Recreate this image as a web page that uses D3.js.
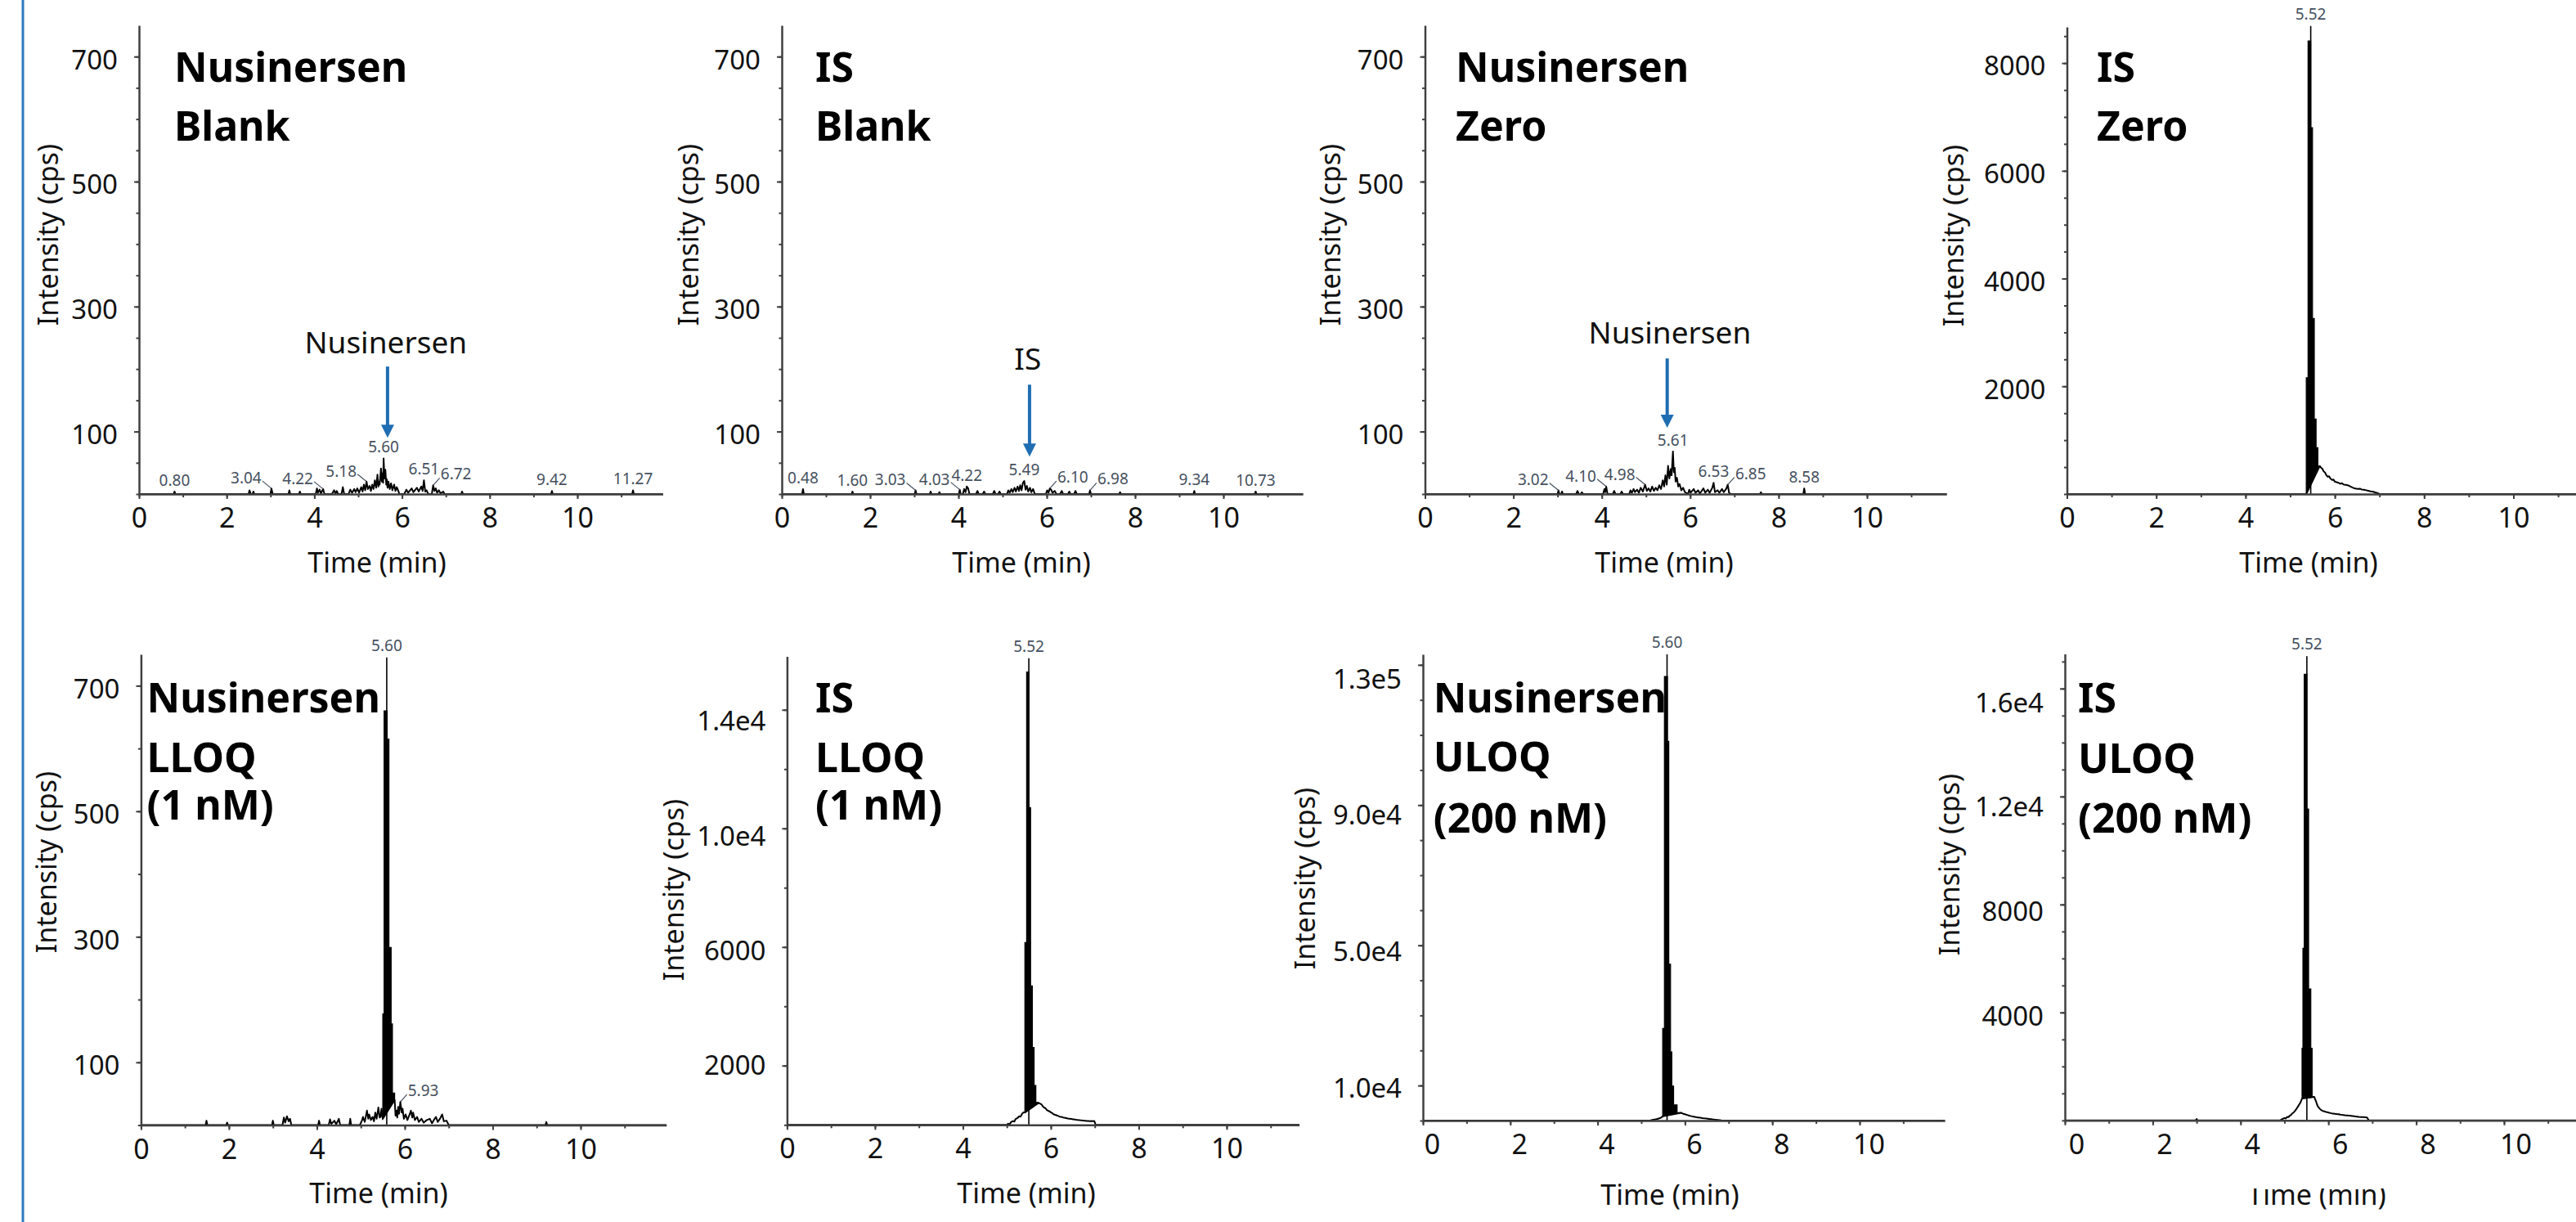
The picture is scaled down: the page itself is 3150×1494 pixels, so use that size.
<!DOCTYPE html>
<html>
<head>
<meta charset="utf-8">
<script src="https://cdn.jsdelivr.net/npm/d3@7"></script>
<style>
  body { margin: 0; background: #fff; }
  svg { display: block; font-family: "Noto Sans", sans-serif; }
</style>
</head>
<body>
<svg id="chart" width="3150" height="1494"></svg>
<script>
// ---- tick labels ----
const xTicks = [0, 2, 4, 6, 8, 10];
const yTicksLow = [100, 300, 500, 700];
const yTicksIsZero = [2000, 4000, 6000, 8000];
const yTicksIsLLOQ = [2000, 6000, 10000, 14000];
const yTicksNusULOQ = [10000, 50000, 90000, 130000];
const yTicksIsULOQ = [4000, 8000, 12000, 16000];

// ---- panel titles ----
const titles = [
  ["Nusinersen", "Blank"], ["IS", "Blank"], ["Nusinersen", "Zero"], ["IS", "Zero"],
  ["Nusinersen", "LLOQ", "(1 nM)"], ["IS", "LLOQ", "(1 nM)"],
  ["Nusinersen", "ULOQ", "(200 nM)"], ["IS", "ULOQ", "(200 nM)"]
];

// ---- traces: [time (min), intensity (cps)] ----
const nusBlank = [[0,0],[0.79,0],[0.81,4],[0.83,0],[2.50,0],[2.52,6],[2.55,0],[2.59,0],[2.61,4],[2.63,0],
  [3.00,0],[3.02,9],[3.05,0],[3.41,0],[3.43,6],[3.45,0],[3.65,0],[3.67,4],[3.69,0],
  [4.03,0],[4.06,9],[4.08,2],[4.12,7],[4.15,1],[4.20,8],[4.23,0],[4.40,0],[4.45,6],[4.48,1],[4.51,5],[4.54,0],
  [4.62,0],[4.65,11],[4.68,0],[4.78,0],[4.82,7],[4.86,2],[4.91,8],[4.94,3],[4.98,9],[5.02,2],[5.07,11],[5.10,4],
  [5.13,15],[5.16,6],[5.19,20],[5.22,8],[5.26,13],[5.29,5],[5.32,15],[5.35,8],[5.38,22],[5.41,10],[5.44,31],
  [5.46,12],[5.47,20],[5.49,15],[5.52,41],[5.54,20],[5.55,33],[5.57,18],[5.58,57],[5.60,25],[5.62,39],[5.64,15],
  [5.65,24],[5.67,10],[5.69,20],[5.72,8],[5.75,17],[5.78,6],[5.82,15],[5.85,5],[5.88,11],[5.91,6],[5.94,0],
  [6.05,0],[6.10,7],[6.14,2],[6.22,9],[6.26,3],[6.34,10],[6.38,4],[6.44,12],[6.47,5],[6.50,22],[6.53,4],[6.56,6],[6.60,0],
  [6.68,0],[6.71,14],[6.74,5],[6.77,9],[6.80,2],[6.84,6],[6.88,1],[6.94,4],[6.97,0],[7.35,0],[7.37,4],[7.39,0],
  [9.40,0],[9.42,5],[9.44,0],[11.25,0],[11.27,6],[11.29,0],[11.95,0]];

const isBlank = [[0,0],[0.46,0],[0.48,8],[0.50,0],[1.58,0],[1.60,4],[1.62,0],[3.01,0],[3.03,6],[3.05,0],
  [3.35,0],[3.37,4],[3.39,0],[3.55,0],[3.57,3],[3.59,0],[4.01,0],[4.03,7],[4.05,0],[4.10,0],[4.13,8],[4.16,3],
  [4.19,12],[4.22,9],[4.25,0],[4.40,0],[4.43,5],[4.46,0],[4.55,0],[4.58,4],[4.61,0],[4.78,0],[4.81,5],[4.84,0],
  [4.90,0],[4.93,4],[4.96,0],[5.10,0],[5.13,6],[5.16,2],[5.20,8],[5.23,3],[5.27,10],[5.30,4],[5.34,12],[5.37,5],
  [5.40,14],[5.43,6],[5.46,18],[5.49,21],[5.52,7],[5.55,13],[5.58,4],[5.62,10],[5.65,3],[5.69,8],[5.73,0],
  [5.98,0],[6.01,6],[6.04,2],[6.07,9],[6.10,7],[6.13,2],[6.18,5],[6.22,0],[6.30,0],[6.34,5],[6.37,0],
  [6.48,0],[6.51,4],[6.54,0],[6.62,0],[6.65,5],[6.68,0],[6.96,0],[6.98,6],[7.00,0],[7.64,0],[7.66,3],[7.68,0],
  [9.32,0],[9.34,5],[9.36,0],[10.71,0],[10.73,4],[10.75,0],[11.8,0]];

const nusZero = [[0,0],[3.00,0],[3.02,6],[3.04,0],[3.08,0],[3.10,4],[3.12,0],[3.42,0],[3.45,5],[3.48,0],
  [3.52,0],[3.55,3],[3.58,0],[4.03,0],[4.06,8],[4.08,3],[4.10,12],[4.13,0],[4.25,0],[4.28,5],[4.31,0],
  [4.42,0],[4.45,4],[4.48,0],[4.62,0],[4.65,6],[4.68,2],[4.72,8],[4.75,3],[4.80,7],[4.84,2],[4.88,10],[4.93,4],
  [4.98,15],[5.02,5],[5.06,9],[5.10,4],[5.14,12],[5.18,5],[5.22,10],[5.26,6],[5.30,14],[5.34,8],[5.38,22],
  [5.41,12],[5.44,30],[5.47,15],[5.50,45],[5.53,25],[5.56,40],[5.58,30],[5.61,68],[5.63,35],[5.65,42],[5.67,20],
  [5.70,26],[5.73,12],[5.76,16],[5.80,6],[5.84,10],[5.88,3],[5.95,0],[5.98,7],[6.01,2],[6.08,8],[6.12,2],
  [6.18,6],[6.22,1],[6.30,9],[6.34,2],[6.40,7],[6.44,2],[6.50,10],[6.53,18],[6.56,3],[6.62,6],[6.66,2],
  [6.72,8],[6.76,3],[6.82,9],[6.85,15],[6.88,2],[6.92,0],[7.58,0],[7.60,3],[7.62,0],[8.56,0],[8.58,9],[8.60,0],[11.8,0]];

const isZero = [[0,0],[5.36,0],[5.66,520],[5.69,490],[5.72,470],[5.75,420],[5.78,400],[5.81,350],[5.84,320],
  [5.87,330],[5.90,290],[5.94,260],[5.97,270],[6.00,230],[6.04,220],[6.08,210],[6.12,190],[6.16,200],[6.20,175],
  [6.25,170],[6.30,160],[6.35,140],[6.40,120],[6.44,105],[6.48,100],[6.52,95],[6.56,100],[6.60,85],[6.65,80],
  [6.70,70],[6.75,60],[6.80,50],[6.85,45],[6.90,30],[6.95,20],[7.00,0],[12,0]];
const isZeroPeak = [[5.36,0],[5.36,2160],[5.40,2160],[5.40,8410],[5.46,8410],[5.46,6800],[5.50,6800],[5.50,3260],
  [5.54,3260],[5.54,1390],[5.58,1390],[5.58,860],[5.62,860],[5.62,520],[5.66,520]];
const isZeroApex = [5.46, 8690];

const nusLLOQ = [[0,0],[1.47,0],[1.49,7],[1.51,0],[1.94,0],[1.96,4],[1.98,0],[2.98,0],[3.00,7],[3.02,0],
  [3.22,0],[3.25,12],[3.28,4],[3.32,14],[3.36,6],[3.39,10],[3.42,0],[4.03,0],[4.05,7],[4.07,0],[4.27,0],[4.30,9],
  [4.33,2],[4.40,7],[4.44,1],[4.50,10],[4.53,0],[4.74,0],[4.76,10],[4.78,0],[4.98,0],[5.03,8],[5.05,13],[5.09,5],
  [5.14,23],[5.17,10],[5.19,17],[5.23,8],[5.27,13],[5.30,6],[5.33,20],[5.36,10],[5.40,28],[5.43,12],[5.45,13],
  [5.47,26],[5.50,10],[5.77,40],[5.79,15],[5.81,23],[5.83,12],[5.85,29],[5.87,18],[5.90,37],[5.93,20],[5.95,26],
  [5.98,10],[6.02,17],[6.06,8],[6.10,15],[6.14,23],[6.17,12],[6.19,20],[6.23,8],[6.28,13],[6.32,5],[6.38,10],
  [6.43,4],[6.50,8],[6.57,10],[6.62,3],[6.67,9],[6.71,13],[6.75,5],[6.80,10],[6.85,17],[6.89,6],[6.95,7],
  [7.00,0],[9.20,0],[9.22,5],[9.24,0],[11.95,0]];
const nusLLOQPeak = [[5.50,10],[5.50,177],[5.53,177],[5.53,660],[5.60,660],[5.60,615],[5.64,615],[5.64,283],
  [5.69,283],[5.69,161],[5.72,161],[5.72,51],[5.77,51],[5.77,40]];
const nusLLOQApex = [5.59, 745];

const isLLOQ = [[0,0],[5.00,0],[5.03,40],[5.06,20],[5.10,100],[5.14,130],[5.17,110],[5.20,200],[5.24,230],
  [5.28,290],[5.31,280],[5.35,380],[5.38,420],[5.41,420],[5.72,740],[5.76,716],[5.79,690],[5.82,620],[5.85,583],
  [5.88,560],[5.91,500],[5.95,470],[5.98,450],[6.00,424],[6.03,400],[6.06,360],[6.10,340],[6.14,318],[6.17,300],
  [6.20,280],[6.24,270],[6.28,252],[6.31,240],[6.35,230],[6.39,215],[6.42,210],[6.47,200],[6.51,190],[6.55,180],
  [6.59,170],[6.62,165],[6.66,160],[6.70,150],[6.74,145],[6.78,140],[6.82,130],[6.85,133],[6.89,125],[6.92,130],
  [6.96,128],[6.99,133],[7.02,0],[11.65,0]];
const isLLOQPeak = [[5.41,420],[5.41,6150],[5.45,6150],[5.45,15270],[5.50,15270],[5.50,10700],[5.54,10700],
  [5.54,4690],[5.58,4690],[5.58,2610],[5.62,2610],[5.62,1330],[5.66,1330],[5.66,760],[5.72,760],[5.72,740]];
const isLLOQApex = [5.50, 15740];

const nusULOQ = [[0,0],[5.20,0],[5.25,200],[5.30,300],[5.35,400],[5.40,600],[5.45,800],[5.49,1200],[5.91,2240],
  [5.95,2000],[6.00,1800],[6.05,1600],[6.10,1400],[6.15,1250],[6.20,1120],[6.25,1000],[6.30,900],[6.35,800],
  [6.40,700],[6.45,620],[6.50,560],[6.55,480],[6.60,400],[6.65,320],[6.70,250],[6.75,180],[6.80,100],[6.85,0],[11.95,0]];
const nusULOQPeak = [[5.49,1200],[5.49,26300],[5.53,26300],[5.53,126700],[5.60,126700],[5.60,108200],[5.63,108200],
  [5.63,44600],[5.67,44600],[5.67,19600],[5.70,19600],[5.70,9860],[5.74,9860],[5.74,4480],[5.82,4480],[5.82,2240],[5.91,2240]];
const nusULOQApex = [5.59, 133000];

const isULOQ = [[0,0],[2.98,0],[3.00,50],[3.02,0],[4.90,0],[4.95,50],[5.00,90],[5.03,70],[5.06,130],[5.09,120],
  [5.12,175],[5.15,200],[5.18,260],[5.21,300],[5.24,350],[5.27,420],[5.31,520],[5.34,600],[5.36,650],[5.40,810],
  [5.68,870],[5.70,780],[5.72,700],[5.74,600],[5.76,520],[5.79,460],[5.81,420],[5.84,380],[5.86,360],[5.89,340],
  [5.92,330],[5.95,310],[5.99,300],[6.02,280],[6.05,270],[6.09,255],[6.12,250],[6.15,245],[6.18,240],[6.21,232],
  [6.24,230],[6.27,215],[6.30,210],[6.34,200],[6.38,190],[6.42,185],[6.45,180],[6.49,175],[6.52,170],[6.56,160],
  [6.60,150],[6.65,140],[6.70,130],[6.75,125],[6.80,120],[6.84,115],[6.88,110],[6.92,0],[12,0]];
const isULOQPeak = [[5.40,810],[5.40,2670],[5.42,2670],[5.42,6380],[5.45,6380],[5.45,16530],[5.51,16530],
  [5.51,11540],[5.55,11540],[5.55,4870],[5.60,4870],[5.60,2670],[5.63,2670],[5.63,870],[5.68,870]];
const isULOQApex = [5.51, 17200];

// ---- retention-time labels: [text, time] ----
const nusBlankRT = [["0.80",0.81],["3.04",3.02],["4.22",4.20],["5.18",5.19],["5.60",5.58],["6.51",6.50],["6.72",6.71],["9.42",9.42],["11.27",11.27]];
const isBlankRT = [["0.48",0.48],["1.60",1.60],["3.03",3.03],["4.03",4.03],["4.22",4.19],["5.49",5.49],["6.10",6.07],["6.98",6.98],["9.34",9.34],["10.73",10.73]];
const nusZeroRT = [["3.02",3.02],["4.10",4.10],["4.98",4.98],["5.61",5.61],["6.53",6.53],["6.85",6.85],["8.58",8.58]];
const nusLLOQRT = [["5.93",5.90]];
const apexText = { isZero: "5.52", nusLLOQ: "5.60", isLLOQ: "5.52", nusULOQ: "5.60", isULOQ: "5.52" };

// ---- layout ----
const labelSide = {
  nusBlank: ["c","l","l","l","c","c","r","c","c"],
  isBlank: ["c","c","l","l","c","c","r","r","c","c"],
  nusZero: ["l","l","l","c","c","r","c"],
  nusLLOQ: ["r"]
};

const panels = [
  { key:"nusBlank", trace:nusBlank, x0:170, x10:706, xMax:11.95, yTop:31, yBase:604, yMax:750, ticks:yTicksLow, minor:50,
    titleDx:43, titleY:[100,172], ylabX:99, ylabY:287, xlabX:461, xlabY:700,
    annot:{text:"Nusinersen", tText:5.63, vText:225, t:5.67, vTail:204, vTip:90} },
  { key:"isBlank", trace:isBlank, x0:956, x10:1496, xMax:11.8, yTop:31, yBase:604, yMax:750, ticks:yTicksLow, minor:50,
    titleDx:41, titleY:[100,172], ylabX:102, ylabY:287, xlabX:1249, xlabY:700,
    annot:{text:"IS", tText:5.57, vText:199, t:5.61, vTail:175, vTip:60} },
  { key:"nusZero", trace:nusZero, x0:1742.5, x10:2283, xMax:11.8, yTop:31, yBase:604, yMax:750, ticks:yTicksLow, minor:50,
    titleDx:37.5, titleY:[100,172], ylabX:103.5, ylabY:287, xlabX:2035, xlabY:700,
    annot:{text:"Nusinersen", tText:5.54, vText:241, t:5.48, vTail:217, vTip:106} },
  { key:"isZero", trace:isZero, peak:isZeroPeak, apex:isZeroApex, x0:2527.5, x10:3073.5, xMax:12, yTop:33, yBase:604, yMax:8670,
    ticks:yTicksIsZero, minor:500, titleDx:36.5, titleY:[100,172], ylabX:126.5, ylabY:288, xlabX:2823, xlabY:700 },
  { key:"nusLLOQ", trace:nusLLOQ, peak:nusLLOQPeak, apex:nusLLOQApex, x0:172.4, x10:710, xMax:11.95, yTop:800, yBase:1375.5, yMax:750,
    ticks:yTicksLow, minor:100, titleDx:7.2, titleY:[871,944,1002], ylabX:103, ylabY:1054, xlabX:463, xlabY:1471 },
  { key:"isLLOQ", trace:isLLOQ, peak:isLLOQPeak, apex:isLLOQApex, x0:962.4, x10:1500, xMax:11.65, yTop:802.5, yBase:1375.3, yMax:15800,
    ticks:yTicksIsLLOQ, minor:2000, labelDrift:[-6,12], titleDx:34.6, titleY:[871,944,1002], ylabX:126, ylabY:1088, xlabX:1255, xlabY:1471 },
  { key:"nusULOQ", trace:nusULOQ, peak:nusULOQPeak, apex:nusULOQApex, x0:1740, x10:2274, xMax:11.95, yTop:800, yBase:1370, yMax:133000,
    ticks:yTicksNusULOQ, minor:10000, labelDrift:[-2,14], xLabelShift:11, titleDx:12.7, titleY:[871,943,1018], ylabX:132, ylabY:1074, xlabX:2042, xlabY:1473 },
  { key:"isULOQ", trace:isULOQ, peak:isULOQPeak, apex:isULOQApex, x0:2525, x10:3062, xMax:12, yTop:799.6, yBase:1369.8, yMax:17280,
    ticks:yTicksIsULOQ, minor:1000, labelDrift:[-4,15], xLabelShift:14, titleDx:16, titleY:[871,945,1018], ylabX:129, ylabY:1057, xlabX:2833, xlabY:1473, coverXlab:true }
];
const rtLabels = { nusBlank:nusBlankRT, isBlank:isBlankRT, nusZero:nusZeroRT, nusLLOQ:nusLLOQRT };

const axisColor = "#404040";
const rtColor = "#46505e";
const arrowColor = "#1f6db3";

const svg = d3.select("#chart");
svg.append("rect").attr("width", 3150).attr("height", 1494).attr("fill", "#fff");

// left blue rule
svg.append("line")
  .attr("x1", 28).attr("x2", 28).attr("y1", 0).attr("y2", 1494)
  .attr("stroke", "#2f78c0").attr("stroke-width", 3);

const fmtY = v => v >= 10000 ? v.toExponential(1).replace("+", "") : String(v);

panels.forEach((p, i) => drawPanel(p, titles[i]));

function drawPanel(p, title) {
  const ppm = (p.x10 - p.x0) / 10;
  const x = d3.scaleLinear().domain([0, p.xMax]).range([p.x0, p.x0 + p.xMax * ppm]);
  const y = d3.scaleLinear().domain([0, p.yMax]).range([p.yBase, p.yTop]);
  const g = svg.append("g").attr("class", p.key);

  // trace
  const line = d3.line().x(d => x(d[0])).y(d => y(d[1]));
  g.append("path")
    .datum(p.trace)
    .attr("d", line)
    .attr("fill", "none")
    .attr("stroke", "#000")
    .attr("stroke-width", 2)
    .attr("stroke-linejoin", "round");

  // dense peak region, drawn filled
  if (p.peak) {
    g.append("path")
      .datum(p.peak)
      .attr("d", d => line(d) + "Z")
      .attr("fill", "#000")
      .attr("stroke", "#000")
      .attr("stroke-width", 1.2);
    g.append("line")
      .attr("x1", x(p.apex[0])).attr("x2", x(p.apex[0]))
      .attr("y1", y(0)).attr("y2", y(p.apex[1]))
      .attr("stroke", "#000").attr("stroke-width", 1.6);
    g.append("text")
      .attr("x", x(p.apex[0]))
      .attr("y", y(p.apex[1]) - 8)
      .attr("text-anchor", "middle")
      .attr("font-size", 19)
      .attr("fill", rtColor)
      .text(apexText[p.key]);
  }

  // x axis: minor ticks then labelled ticks
  const gx = g.append("g").attr("transform", `translate(0,${p.yBase})`);
  gx.append("g")
    .call(d3.axisBottom(x).tickValues(d3.range(0, Math.floor(p.xMax) + 1)).tickSize(4).tickSizeOuter(0).tickFormat(""))
    .call(a => a.select(".domain").attr("stroke", axisColor).attr("stroke-width", 2.5));
  gx.append("g")
    .call(d3.axisBottom(x).tickValues(xTicks).tickSize(6).tickPadding(11).tickSizeOuter(0))
    .call(a => a.select(".domain").remove())
    .call(a => a.selectAll("text").attr("font-size", 34).attr("font-family", "Noto Sans")
      .attr("fill", "#111").attr("dx", p.xLabelShift || 0));
  gx.selectAll(".tick line").attr("stroke", axisColor).attr("stroke-width", 2);

  // y axis
  const drift = p.labelDrift || [0, 0];
  const gy = g.append("g").attr("transform", `translate(${p.x0},0)`);
  gy.append("g")
    .call(d3.axisLeft(y).tickValues(d3.range(0, p.yMax, p.minor)).tickSize(3.5).tickSizeOuter(0).tickFormat(""))
    .call(a => a.select(".domain").attr("stroke", axisColor).attr("stroke-width", 2.5));
  gy.append("g")
    .call(d3.axisLeft(y).tickValues(p.ticks).tickSize(6).tickPadding(20).tickSizeOuter(0).tickFormat(fmtY))
    .call(a => a.select(".domain").remove())
    .call(a => a.selectAll("text").attr("font-size", 33).attr("font-family", "Noto Sans").attr("fill", "#111")
      .attr("dy", "0.45em")
      .attr("transform", d => `translate(0,${drift[0] + (drift[1] - drift[0]) * d / p.yMax})`));
  gy.selectAll(".tick line").attr("stroke", axisColor).attr("stroke-width", 2);

  // axis titles
  g.append("text")
    .attr("transform", `translate(${p.x0 - p.ylabX},${p.ylabY}) rotate(-90)`)
    .attr("text-anchor", "middle")
    .attr("font-size", 34)
    .attr("fill", "#111")
    .text("Intensity (cps)");
  g.append("text")
    .attr("x", p.xlabX).attr("y", p.xlabY)
    .attr("text-anchor", "middle")
    .attr("font-size", 34)
    .attr("fill", "#111")
    .text("Time (min)");
  if (p.coverXlab) {
    g.append("rect")
      .attr("x", p.xlabX - 100).attr("y", p.xlabY - 34)
      .attr("width", 200).attr("height", 14)
      .attr("fill", "#fff");
  }

  // panel title
  g.append("g").selectAll("text")
    .data(title)
    .join("text")
    .attr("x", p.x0 + p.titleDx)
    .attr("y", (d, i) => p.titleY[i])
    .attr("font-size", 50)
    .attr("font-weight", 700)
    .attr("fill", "#000")
    .text(d => d);

  // retention-time labels on the noise traces
  const rts = rtLabels[p.key];
  if (rts) {
    const sides = labelSide[p.key];
    rts.forEach((r, i) => {
      const near = p.trace.filter(d => Math.abs(d[0] - r[1]) <= 0.025);
      const vTop = d3.max(near, d => d[1]) || 0;
      const px = x(r[1]), py = y(vTop);
      const side = sides[i];
      let tx = px, ty = py - 7;
      if (side === "l") {
        tx = px - 31; ty = py - 6;
        g.append("line").attr("x1", px - 11).attr("y1", ty - 3).attr("x2", px).attr("y2", py)
          .attr("stroke", rtColor).attr("stroke-width", 1.2);
      } else if (side === "r") {
        tx = px + 28; ty = py - 7;
        g.append("line").attr("x1", px).attr("y1", py).attr("x2", px + 8).attr("y2", ty - 2)
          .attr("stroke", rtColor).attr("stroke-width", 1.2);
      }
      g.append("text")
        .attr("x", tx).attr("y", ty)
        .attr("text-anchor", "middle")
        .attr("font-size", 19)
        .attr("fill", rtColor)
        .text(r[0]);
    });
  }

  // annotation text and arrow
  if (p.annot) {
    const a = p.annot;
    g.append("text")
      .attr("x", x(a.tText)).attr("y", y(a.vText))
      .attr("text-anchor", "middle")
      .attr("font-size", 37)
      .attr("fill", "#111")
      .text(a.text);
    const ax = x(a.t), tipY = y(a.vTip);
    g.append("line")
      .attr("x1", ax).attr("x2", ax)
      .attr("y1", y(a.vTail)).attr("y2", tipY - 14)
      .attr("stroke", arrowColor).attr("stroke-width", 4);
    g.append("path")
      .attr("d", `M${ax - 8},${tipY - 16}L${ax + 8},${tipY - 16}L${ax},${tipY}Z`)
      .attr("fill", arrowColor);
  }
}
</script>
</body>
</html>
